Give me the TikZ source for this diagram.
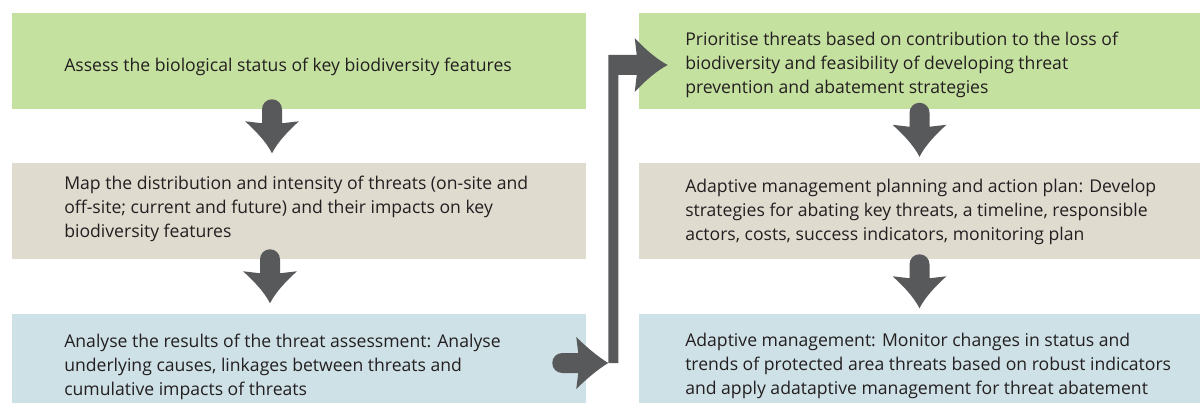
\documentclass[tikz,border=0pt]{standalone}
\usepackage{fontspec}
\setmainfont{Open Sans}
\usetikzlibrary{calc}
\definecolor{cgreen}{HTML}{C5E1A0}
\definecolor{ctan}{HTML}{E0DBCF}
\definecolor{cblue}{HTML}{CEE1E6}
\definecolor{cgray}{HTML}{58595B}
\definecolor{ctext}{HTML}{231F20}
\tikzset{
  leftbox/.style={rectangle, inner sep=0pt, minimum width=430.5pt, minimum height=72pt},
  rightbox/.style={rectangle, inner sep=0pt, minimum width=420.75pt, minimum height=72pt},
  lowbox/.style={minimum height=66.75pt},
  txt/.style={anchor=west, inner sep=0pt, align=left, text=ctext, font=\fontsize{13.2}{18}\selectfont},
  dnarrow/.pic={\fill[cgray] (-10,10) arc[start angle=180,end angle=0,radius=7.5pt] -- (10,24) -- (27,22) .. controls (18,30) and (6,42) .. (0,54) .. controls (-6,42) and (-18,30) .. (-27,22) -- (-10,24) -- cycle;}
}
\begin{document}
\begin{tikzpicture}[x=0.75pt,y=-0.75pt]
\useasboundingbox (0,0) rectangle (1200,403);
% boxes
\node[leftbox, fill=cgreen] (b1) at (299,61) {};
\node[leftbox, fill=ctan] (b2) at (299,211) {};
\node[leftbox, lowbox, fill=cblue] (b3) at (299,358.5) {};
\node[rightbox, fill=cgreen] (b4) at (919.5,61.5) {};
\node[rightbox, fill=ctan] (b5) at (919.5,211) {};
\node[rightbox, lowbox, fill=cblue] (b6) at (919.5,358.5) {};
% texts
\node[txt] (t1) at (64,67) {Assess the biological status of key biodiversity features};
\node[txt] (t2) at (64,209) {Map the distribution and intensity of threats (on-site and\\off-site; current and future) and their impacts on key\\biodiversity features};
\node[txt] (t3) at (64,367) {Analyse the results of the threat assessment: Analyse\\underlying causes, linkages between threats and\\cumulative impacts of threats};
\node[txt] (t4) at (685,65) {Prioritise threats based on contribution to the loss of\\biodiversity and feasibility of developing threat\\prevention and abatement strategies};
\node[txt] (t5) at (685,212) {Adaptive management planning and action plan: Develop\\strategies for abating key threats, a timeline, responsible\\actors, costs, success indicators, monitoring plan};
\node[txt] (t6) at (685,366) {Adaptive management: Monitor changes in status and\\trends of protected area threats based on robust indicators\\and apply adataptive management for threat abatement};
% down arrows
\pic at ($(b1.south)+(-27,-10)$) {dnarrow};
\pic at ($(b2.south)+(-29,-10)$) {dnarrow};
\pic at ($(b4.south)+(0,-7)$) {dnarrow};
\pic at ($(b5.south)+(0,-5)$) {dnarrow};
% elbow arrow from b3 to b4
\coordinate (tailc) at ($(b3.east)+(-24,4.5)$);
\coordinate (joint) at ($(b3.east)+(22,4.5)$);
\coordinate (tip) at ($(b4.west)+(29,3.5)$);
\fill[cgray] ($(tailc)+(0,-10)$) -- ($(tailc)+(16,-10)$) -- ($(tailc)+(14,-26)$)
  .. controls ($(tailc)+(24,-16)$) and ($(tailc)+(36,-6)$) .. (joint)
  .. controls ($(tailc)+(36,6)$) and ($(tailc)+(24,16)$) .. ($(tailc)+(14,26)$)
  -- ($(tailc)+(16,10)$) -- ($(tailc)+(0,10)$) arc[start angle=270,end angle=90,radius=7.5pt] -- cycle;
\fill[cgray] (joint) -- (joint |- {$(tip)+(0,-10)$}) -- ($(tip)+(-31,-10)$) -- ($(tip)+(-33,-27)$)
  .. controls ($(tip)+(-23,-16)$) and ($(tip)+(-10,-5)$) .. (tip)
  .. controls ($(tip)+(-10,5)$) and ($(tip)+(-23,16)$) .. ($(tip)+(-33,27)$)
  -- ($(tip)+(-31,10)$) -- ($(joint |- tip)+(10,10)$) -- ($(joint)+(10,0)$) -- cycle;
\end{tikzpicture}
\end{document}
